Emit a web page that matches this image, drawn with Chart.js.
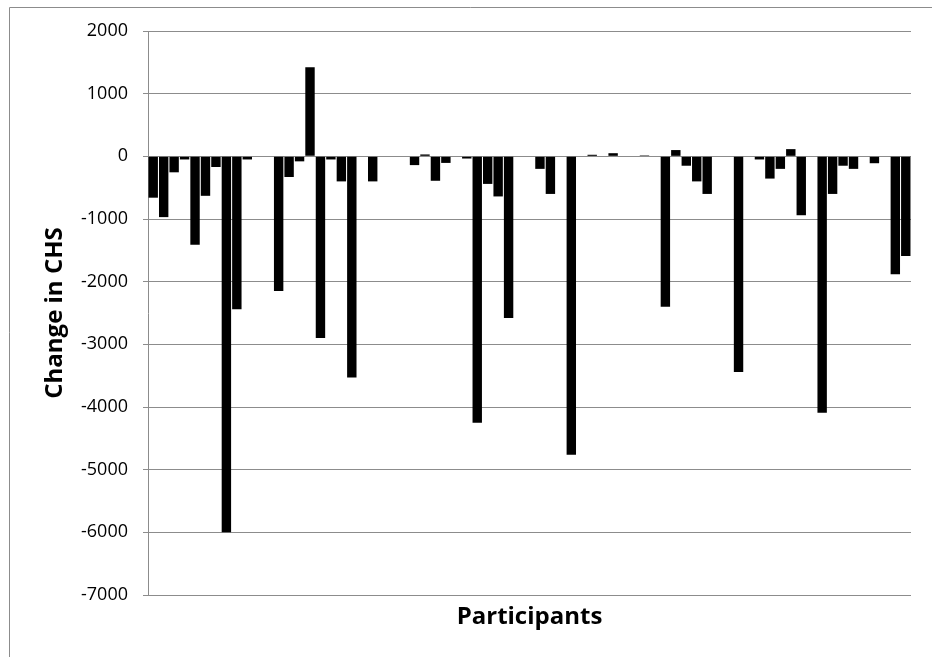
<!DOCTYPE html>
<html>
<head>
<meta charset="utf-8">
<script src="https://cdn.jsdelivr.net/npm/chart.js@4"></script>
<style>
  html, body { margin: 0; padding: 0; background: #fff; }
  #chs { display: block; }
</style>
</head>
<body>
<canvas id="chs" width="932" height="657"></canvas>
<script>
// Participants (category axis has no visible labels)
const participants = [
  '1','2','3','4','5','6','7','8','9','10','11','12','13','14','15','16','17','18','19','20',
  '21','22','23','24','25','26','27','28','29','30','31','32','33','34','35','36','37','38','39','40',
  '41','42','43','44','45','46','47','48','49','50','51','52','53','54','55','56','57','58','59','60',
  '61','62','63','64','65','66','67','68','69','70','71','72','73'
];

// Change in CHS per participant
const changeInCHS = [
  -660, -970, -255, -50, -1410, -630, -170, -6000, -2440, -50,
  0, 0, -2150, -330, -80, 1420, -2900, -50, -400, -3530,
  0, -400, 0, 0, 0, -140, 30, -390, -105, 0,
  -35, -4250, -440, -640, -2580, 0, 0, -200, -600, 0,
  -4760, 0, 25, 0, 50, 0, 0, 15, 0, -2400,
  100, -150, -400, -600, 0, 0, -3440, 0, -50, -355,
  -200, 115, -940, 0, -4090, -600, -150, -200, 0, -110,
  0, -1880, -1590
];

const yTicks = [2000, 1000, 0, -1000, -2000, -3000, -4000, -5000, -6000, -7000];

const gridGrey = '#8c8c8c';

// Outer frame of the chart object (only left and top edges are in view)
const framePlugin = {
  id: 'frame',
  afterDraw(chart) {
    const ctx = chart.ctx;
    ctx.save();
    ctx.strokeStyle = '#8c8c8c';
    ctx.lineWidth = 1;
    ctx.beginPath();
    ctx.moveTo(9.5, 657);
    ctx.lineTo(9.5, 7.5);
    ctx.lineTo(932, 7.5);
    ctx.stroke();
    ctx.restore();
  }
};

new Chart(document.getElementById('chs'), {
  type: 'bar',
  data: {
    labels: participants,
    datasets: [{
      label: 'Change in CHS',
      data: changeInCHS,
      backgroundColor: '#000',
      borderWidth: 0,
      barPercentage: 0.9,
      categoryPercentage: 1.0
    }]
  },
  options: {
    responsive: false,
    animation: false,
    devicePixelRatio: 1,
    layout: { padding: { left: 10, top: 31, right: 21, bottom: 0 } },
    plugins: {
      legend: { display: false },
      tooltip: { enabled: false }
    },
    scales: {
      x: {
        grid: { display: false },
        border: { display: false },
        ticks: { display: false },
        title: {
          display: true,
          text: 'Participants',
          color: '#000',
          font: { family: 'Open Sans', size: 24, weight: 'bold' },
          padding: { top: 0, bottom: 25 }
        },
        afterFit: (scale) => { scale.height = 62; }
      },
      y: {
        min: -7000,
        max: 2000,
        afterBuildTicks: (scale) => { scale.ticks = yTicks.map(v => ({ value: v })); },
        grid: { color: gridGrey, lineWidth: 1, drawTicks: true, tickLength: 5, tickColor: gridGrey },
        border: { display: true, color: gridGrey, width: 1 },
        ticks: {
          color: '#000',
          padding: 15,
          font: { family: 'Open Sans', size: 18 },
          callback: (v) => String(v)
        },
        title: {
          display: true,
          text: 'Change in CHS',
          color: '#000',
          font: { family: 'Open Sans', size: 24, weight: 'bold' },
          padding: { top: 31, bottom: 0 }
        },
        afterFit: (scale) => { scale.width = 138; }
      }
    }
  },
  plugins: [framePlugin]
});
</script>
</body>
</html>
